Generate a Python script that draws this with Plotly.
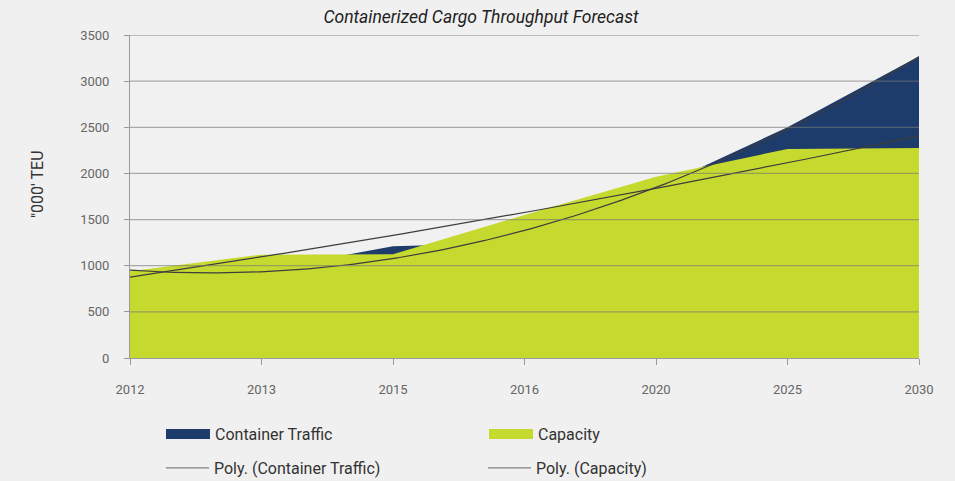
import numpy as np
import plotly.graph_objects as go

years = ["2012", "2013", "2015", "2016", "2020", "2025", "2030"]
container_traffic = [915, 950, 1210, 1250, 1840, 2500, 3270]
capacity = [940, 1120, 1125, 1550, 1965, 2265, 2275]
y_ticks = [0, 500, 1000, 1500, 2000, 2500, 3000, 3500]

NAVY = "#1d3c6b"
LIME = "#c6d92e"
TREND = "#3d3d3d"
FONT = "Roboto"

xi = np.arange(len(years))
xf = np.linspace(0, len(years) - 1, 200)
ct_trend = np.polyval(np.polyfit(xi, container_traffic, 2), xf)
cap_trend = np.polyval(np.polyfit(xi, capacity, 2), xf)

fig = go.Figure()
fig.add_trace(go.Scatter(x=xi, y=container_traffic, mode="lines", fill="tozeroy",
                         fillcolor=NAVY, line=dict(width=0, color=NAVY), showlegend=False,
                         hoverinfo="skip"))
fig.add_trace(go.Scatter(x=xi, y=capacity, mode="lines", fill="tozeroy",
                         fillcolor=LIME, line=dict(width=0, color=LIME), showlegend=False,
                         hoverinfo="skip"))
fig.add_trace(go.Scatter(x=xf, y=ct_trend, mode="lines", line=dict(width=1.2, color=TREND),
                         showlegend=False, hoverinfo="skip"))
fig.add_trace(go.Scatter(x=xf, y=cap_trend, mode="lines", line=dict(width=1.2, color=TREND),
                         showlegend=False, hoverinfo="skip"))

# legend entries
fig.add_trace(go.Scatter(x=[None], y=[None], mode="lines", name="Container Traffic",
                         line=dict(width=10, color=NAVY), legend="legend"))
fig.add_trace(go.Scatter(x=[None], y=[None], mode="lines", name="Capacity",
                         line=dict(width=10, color=LIME), legend="legend"))
fig.add_trace(go.Scatter(x=[None], y=[None], mode="lines", name="Poly. (Container Traffic)",
                         line=dict(width=1.2, color="#808080"), legend="legend2"))
fig.add_trace(go.Scatter(x=[None], y=[None], mode="lines", name="Poly. (Capacity)",
                         line=dict(width=1.2, color="#808080"), legend="legend2"))

# gridlines drawn above the areas
for v in y_ticks[1:]:
    fig.add_shape(type="line", xref="paper", x0=0, x1=1, yref="y", y0=v, y1=v,
                  line=dict(color="rgba(120,120,120,0.6)", width=1.3), layer="above")

W, H = 955, 481
L, R, T, B = 130, 36, 35, 123
pw, ph = W - L - R, H - T - B

def px_x(px):
    return (px - L) / pw

def px_y(py):
    return (H - B - py) / ph

legend_common = dict(orientation="h", xref="container", yref="container",
                     xanchor="left", yanchor="middle",
                     font=dict(size=16, color="#333"), bgcolor="rgba(0,0,0,0)",
                     itemclick=False, itemdoubleclick=False, entrywidthmode="pixels")

fig.update_layout(
    width=W, height=H,
    margin=dict(l=L, r=R, t=T, b=B, autoexpand=False),
    paper_bgcolor="#f0f0f0",
    plot_bgcolor="#f1f1f1",
    font=dict(family=FONT, color="#555"),
    title=dict(text="Containerized Cargo Throughput Forecast",
               font=dict(family=FONT, size=17.5, color="#222", style="italic"),
               x=481 / W, xanchor="center", xref="container",
               y=1 - 17 / H, yanchor="middle", yref="container"),
    xaxis=dict(range=[0, len(years) - 1], tickvals=list(xi), ticktext=years,
               showgrid=False, zeroline=False, showline=True, linecolor="#9a9a9a",
               linewidth=1, ticks="outside", ticklen=6, tickcolor="#9a9a9a",
               tickfont=dict(size=13, color="#666"), ticklabelstandoff=13),
    yaxis=dict(range=[0, 3500], tickvals=y_ticks, showgrid=False, zeroline=False,
               showline=True, linecolor="#9a9a9a", linewidth=1, ticks="outside",
               ticklen=5, tickcolor="#9a9a9a", tickfont=dict(size=13, color="#666"),
               ticklabelstandoff=12),
    legend=dict(legend_common, x=161 / W, y=1 - 434 / H, itemwidth=44, entrywidth=264),
    legend2=dict(legend_common, x=161 / W, y=1 - 468 / H, itemwidth=43, entrywidth=264),
    annotations=[dict(text="\"000' TEU", textangle=-90, xref="paper", yref="paper",
                      x=px_x(37), y=px_y(184), xanchor="center", yanchor="middle",
                      showarrow=False, font=dict(size=16, color="#333"))],
)

fig.write_html("out.html", post_script="document.body.style.margin='0';",
               config={"displayModeBar": False})
